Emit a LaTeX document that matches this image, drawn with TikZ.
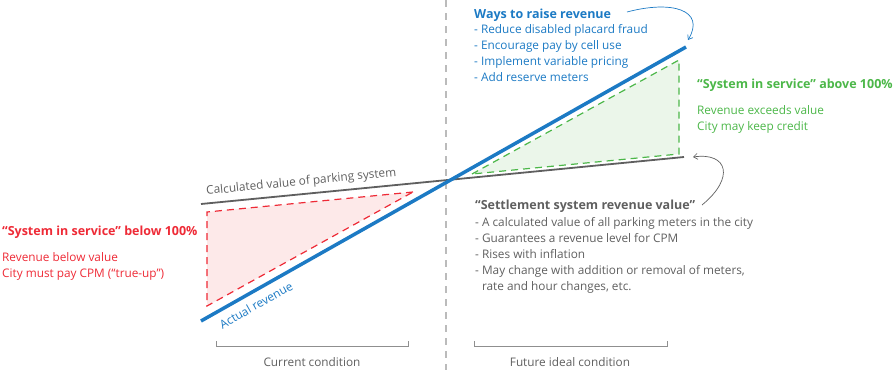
\documentclass[tikz,border=0pt]{standalone}
\usepackage{fontspec}
\setmainfont{Open Sans}
\usetikzlibrary{arrows.meta}
\definecolor{cblue}{HTML}{1C7AC4}
\definecolor{cred}{HTML}{EE2A36}
\definecolor{cgreen}{HTML}{4CB749}
\definecolor{cgrey}{HTML}{5F5F5F}
\definecolor{cdiv}{HTML}{BBBBBB}
\definecolor{cpink}{HTML}{FDE9E9}
\definecolor{cmint}{HTML}{EBF6EA}
\tikzset{
  txt/.style={anchor=base west, inner sep=0pt, font=\fontsize{11.8}{14}\selectfont},
  ttl/.style={anchor=base west, inner sep=0pt, font=\fontsize{12.5}{14}\selectfont\bfseries},
  lbl/.style={inner sep=0pt, font=\fontsize{11.8}{14}\selectfont},
  brk/.style={draw=cgrey!70, line width=0.6pt},
}
\begin{document}
\begin{tikzpicture}[x=1pt,y=-1pt]
\useasboundingbox (0,0) rectangle (895,370);
% divider
\coordinate (dtop) at (446,0);
\coordinate (dbot) at (446,370);
\draw[cdiv, line width=1.2pt, dash pattern=on 7pt off 6pt] (dtop) -- (dbot);
% triangles
\coordinate (r1) at (207,212);
\coordinate (r2) at (207,306);
\coordinate (r3) at (413,192);
\fill[cpink] (r1) -- (r2) -- (r3) -- cycle;
\draw[cred, line width=1.2pt, dash pattern=on 7pt off 5pt] (r3) -- (r1) -- (r2) -- cycle;
\coordinate (g1) at (472,174);
\coordinate (g2) at (679,60);
\coordinate (g3) at (679,154);
\fill[cmint] (g1) -- (g2) -- (g3) -- cycle;
\draw[cgreen, line width=1.2pt, dash pattern=on 7pt off 5pt] (g1) -- (g2) -- (g3) -- cycle;
% lines
\coordinate (ga) at (201,204);
\coordinate (gb) at (684,157);
\draw[cgrey, line width=1.8pt] (ga) -- node[lbl, pos=0.21, above=5pt, sloped, text=cgrey] (calc) {Calculated value of parking system} (gb);
\coordinate (ba) at (201,321);
\coordinate (bb) at (686,47);
\draw[cblue, line width=3.5pt] (ba) -- node[lbl, pos=0.1, below=7pt, sloped, text=cblue] (act) {Actual revenue} (bb);
% left red text
\node[ttl, text=cred] (redt) at (2,235) {“System in service” below 100\%};
\node[txt, text=cred] (redb1) at (2,261) {Revenue below value};
\node[txt, text=cred] (redb2) at (2,277) {City must pay CPM (“true-up”)};
% blue text
\node[ttl, text=cblue] (bluet) at (474,18) {Ways to raise revenue};
\node[txt, text=cblue] (blue1) at (474,33) {- Reduce disabled placard fraud};
\node[txt, text=cblue] (blue2) at (474,49) {- Encourage pay by cell use};
\node[txt, text=cblue] (blue3) at (474,65) {- Implement variable pricing};
\node[txt, text=cblue] (blue4) at (474,81) {- Add reserve meters};
% green text
\node[ttl, text=cgreen] (greent) at (697,88) {“System in service” above 100\%};
\node[txt, text=cgreen] (green1) at (697,114) {Revenue exceeds value};
\node[txt, text=cgreen] (green2) at (697,130) {City may keep credit};
% grey text
\node[ttl, text=cgrey] (greyt) at (475,209) {“Settlement system revenue value”};
\node[txt, text=cgrey] (grey1) at (475,226) {- A calculated value of all parking meters in the city};
\node[txt, text=cgrey] (grey2) at (475,242) {- Guarantees a revenue level for CPM};
\node[txt, text=cgrey] (grey3) at (475,258) {- Rises with inflation};
\node[txt, text=cgrey] (grey4) at (475,274) {- May change with addition or removal of meters,};
\node[txt, text=cgrey] (grey5) at (475,290) {\phantom{- }rate and hour changes, etc.};
% curved arrows
\coordinate (bas) at (627,12);
\coordinate (bae) at (688,40);
\draw[cblue, line width=0.7pt, -{Straight Barb[length=4pt,width=6pt]}] (bas) .. controls (672,0) and (706,10) .. (bae);
\coordinate (gas) at (702,205);
\coordinate (gae) at (693,157);
\draw[cgrey, line width=0.7pt, -{Straight Barb[length=4pt,width=6pt]}] (gas) .. controls (735,178) and (728,152) .. (gae);
% brackets
\coordinate (l1) at (216,341);
\coordinate (l2) at (216,346);
\coordinate (l3) at (408,346);
\coordinate (l4) at (408,341);
\draw[brk] (l1) -- (l2) -- (l3) -- (l4);
\node[lbl, anchor=base, text=cgrey] (cur) at (312,366) {Current condition};
\coordinate (f1) at (474,341);
\coordinate (f2) at (474,346);
\coordinate (f3) at (667,346);
\coordinate (f4) at (667,341);
\draw[brk] (f1) -- (f2) -- (f3) -- (f4);
\node[lbl, anchor=base, text=cgrey] (fut) at (570,366) {Future ideal condition};
\end{tikzpicture}
\end{document}
